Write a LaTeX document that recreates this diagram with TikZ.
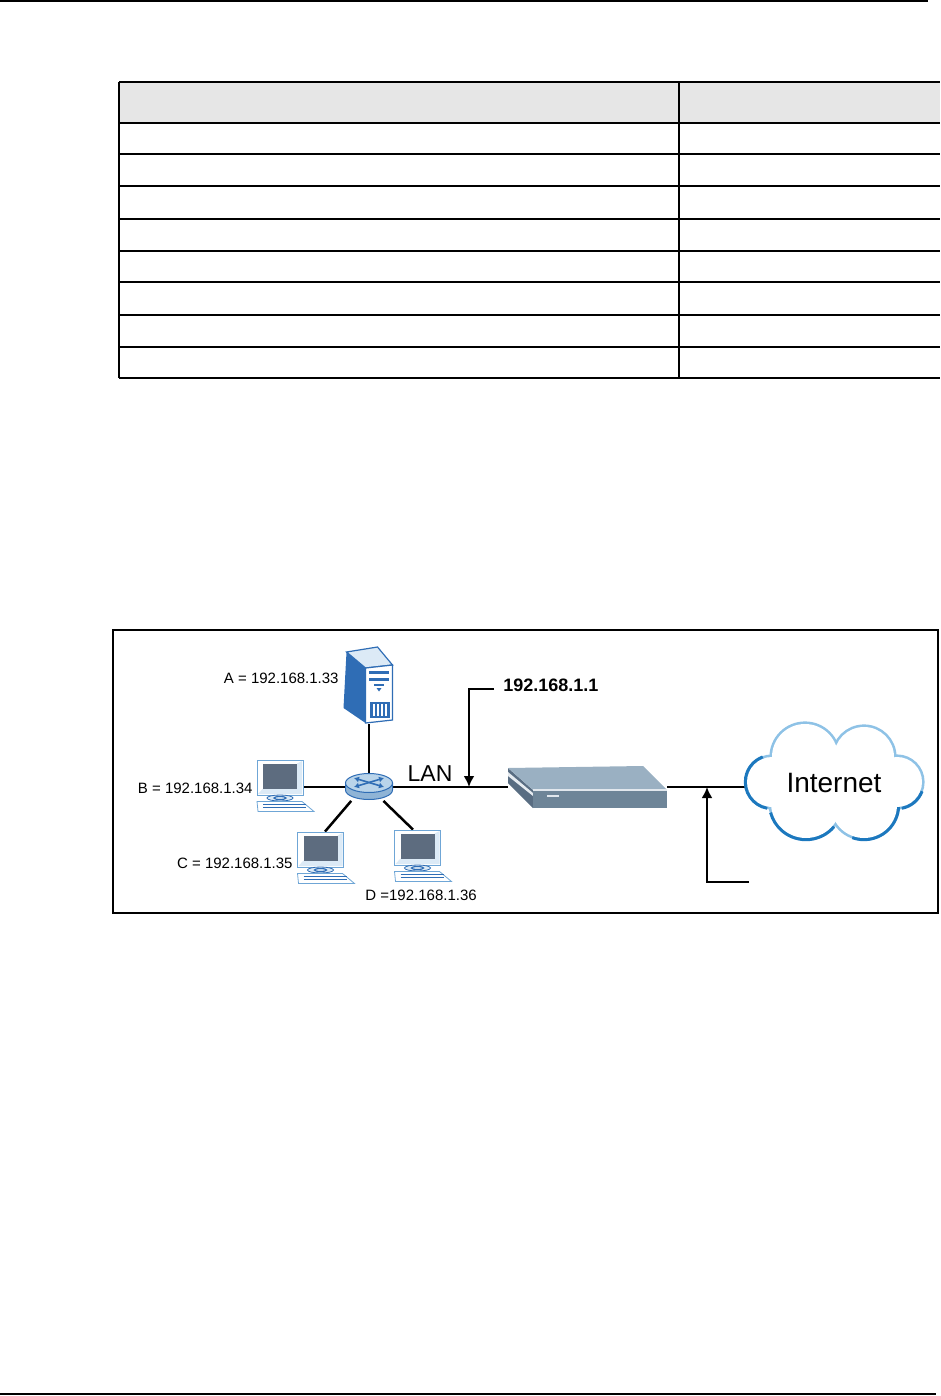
\documentclass[tikz,border=0pt]{standalone}
\usepackage{fontspec}
\setmainfont{Liberation Sans}
\usepackage{tikz}
\usetikzlibrary{arrows.meta}
\definecolor{hdrgray}{HTML}{E6E6E6}
\definecolor{srvblue}{HTML}{2F6DB5}
\definecolor{paleblue}{HTML}{DCEAF6}
\definecolor{edgeblue}{HTML}{6FA6D6}
\definecolor{screengray}{HTML}{5D6C7F}
\definecolor{hubtop}{HTML}{B9D4EA}
\definecolor{hubside}{HTML}{8FB4D6}
\definecolor{cloudlight}{HTML}{8EC2E6}
\definecolor{clouddark}{HTML}{1C78BE}
\definecolor{rtrtop}{HTML}{9AB0C2}
\definecolor{rtrfront}{HTML}{6E8598}
\definecolor{rtrside}{HTML}{596D82}
\def\devnode{\node[inner sep=0pt]}
% monitor and keyboard round the monitor centre
\newcommand{\drawpc}[1]{%
\begin{scope}[shift={(#1.center)}]
\fill[white,draw=edgeblue,line width=0.4pt] (-23,-17.5) rectangle (23,17.5);
\fill[paleblue] (17,-14) -- (22,-16.5) -- (22,16.5) -- (-22,16.5) -- (-17,11) -- (17,11) -- cycle;
\fill[screengray] (-17,-14) rectangle (17,11);
\fill[paleblue,draw=srvblue,line width=0.4pt] (0,20.5) ellipse (13 and 3);
\draw[srvblue,line width=0.6pt] (0,20.5) ellipse (6 and 1.5);
\fill[white,draw=edgeblue,line width=0.4pt] (-23,24) -- (22,24) -- (34,34) -- (-22,34) -- cycle;
\foreach \ky in {27,30} \draw[srvblue,line width=0.8pt] (-17,\ky) -- (26,\ky);
\end{scope}}

\begin{document}
\begin{tikzpicture}[x=0.5pt,y=-0.5pt,
  lnk/.style={line width=1.25pt},
  arr/.style={line width=1.25pt,-{Latex[length=5.5pt,width=5.5pt]}},
  rule/.style={line width=0.75pt},
  iplabel/.style={font=\fontsize{7.5}{9}\selectfont,inner sep=0pt},
  hubarr/.style={srvblue,line width=0.8pt,{Latex[length=2.5pt,width=3pt]}-{Latex[length=2.5pt,width=3pt]}}]
\useasboundingbox (0,0) rectangle (941,1396);
\draw[rule] (0,1) -- (928,1);
\draw[line width=1pt] (0,1394) -- (936,1394);

% table
\fill[hdrgray] (119,82) rectangle (940,123);
\foreach \ry in {82,123,154,186,219,251,282,315,347,378}
  \draw[rule] (119,\ry) -- (940,\ry);
\draw[rule] (119,82) -- (119,378);
\draw[rule] (679,82) -- (679,378);

% network figure
\draw[line width=1.2pt] (113,630) rectangle (938,913);

\devnode[minimum width=23.5pt,minimum height=38.5pt] (srv) at (369,685.5) {};
\devnode[minimum width=23.5pt,minimum height=13.5pt] (hub) at (369,787) {};
\devnode[minimum width=23pt,minimum height=17.5pt] (pcb) at (280,777.5) {};
\devnode[minimum width=22.5pt,minimum height=17.5pt] (pcc) at (320.5,849.5) {};
\devnode[minimum width=22.5pt,minimum height=17.5pt] (pcd) at (417.5,847.5) {};
\devnode[minimum width=79.5pt,minimum height=21pt] (rtr) at (587.5,787) {};
\devnode[minimum width=87pt,minimum height=56pt,font=\fontsize{14}{16}\selectfont] (inet) at (834,783) {Internet};

\node[iplabel,anchor=east] (lbla) at (339,678) {A = 192.168.1.33};
\node[iplabel,anchor=east] (lblb) at (253,788) {B = 192.168.1.34};
\node[iplabel,anchor=east] (lblc) at (293,863) {C = 192.168.1.35};
\node[iplabel,anchor=west] (lbld) at (365,895) {D =192.168.1.36};
\node[inner sep=0pt,font=\fontsize{11.5}{13}\selectfont] (lan) at (430,773.5) {LAN};
\node[inner sep=0pt,anchor=base west,font=\fontsize{9}{11}\selectfont\bfseries] (gwip) at (503,691) {192.168.1.1};

\coordinate (gwend) at (494,689);
\coordinate (lanpt) at (469,787);
\coordinate (wanend) at (749,882);
\coordinate (wanpt) at (707,787);

\draw[lnk] (srv.south) -- (hub.north);
\draw[lnk] (hub.west) -- (hub.west -| pcb.east);
\draw[lnk] (hub.218) -- (pcc.76);
\draw[lnk] (hub.316) -- (pcd.104);
\draw[lnk] (hub.east) -- (rtr.west);
\draw[lnk] (rtr.east) -- (rtr.east -| inet.west);
\draw[arr] (gwend) -| (lanpt);
\draw[arr] (wanend) -| (wanpt);

% server
\begin{scope}[shift={(srv.center)}]
\fill[srvblue] (-22.5,-33.5) -- (-3.5,-17.5) -- (-3.5,37.5) -- (-25.5,22.5) -- cycle;
\fill[paleblue,draw=srvblue,line width=0.6pt] (-22.5,-33.5) -- (8.5,-38.5) -- (23.5,-20.5) -- (-3.5,-17.5) -- cycle;
\fill[white,draw=srvblue,line width=0.6pt] (-3.5,-17.5) -- (23.5,-20.5) -- (23.5,34.5) -- (-3.5,37.5) -- cycle;
\fill[srvblue] (0,-15) rectangle (20,-11.5);
\fill[srvblue] (0,-8) rectangle (20,-4.5);
\fill[srvblue] (5,-2) rectangle (15,0);
\fill[srvblue] (7.5,2.5) -- (12.5,2.5) -- (10,6) -- cycle;
\fill[srvblue] (1,16) rectangle (21,32);
\foreach \sx in {4,8,12,16} \fill[white] (\sx,18) rectangle (\sx+1.6,30);
\end{scope}

% hub
\begin{scope}[shift={(hub.center)}]
\fill[hubside,draw=srvblue,line width=0.5pt] (-23.5,-4) -- (-23.5,3) arc[start angle=180,end angle=0,x radius=23.5,y radius=9.5] -- (23.5,-4) -- cycle;
\fill[hubtop,draw=srvblue,line width=0.5pt] (0,-4) ellipse (23.5 and 9.5);
\draw[hubarr] (-15,-9) -- (15,0);
\draw[hubarr] (-15,0) -- (15,-9);
\end{scope}

\drawpc{pcb}
\drawpc{pcc}
\drawpc{pcd}

% router
\begin{scope}[shift={(rtr.center)}]
\fill[rtrside] (-79.5,-19) -- (-54.5,3) -- (-54.5,21) -- (-79.5,-4) -- cycle;
\fill[white!75!rtrtop] (-79.5,-15) -- (-54.5,6) -- (-54.5,9) -- (-79.5,-11) -- cycle;
\fill[rtrtop] (-79.5,-19) -- (55.5,-21) -- (79.5,3) -- (-54.5,3) -- cycle;
\fill[rtrfront] (-54.5,3) rectangle (79.5,21);
\draw[white!70!rtrtop,line width=0.6pt] (-54.5,3) -- (79.5,3);
\fill[white!70!rtrtop] (-41,8) rectangle (-29,10);
\end{scope}

% cloud
\foreach \cx/\cy/\cr in {805/757/33,864/757/30,897/782/25,864/805/33,806/803/35,772/782/25}
  \draw[cloudlight,line width=2.6pt] (\cx,\cy) circle (\cr);
\foreach \cx/\cy/\cr/\sa/\ea in {772/782/25/100/250,806/803/35/40/165,864/805/33/-10/110,897/782/25/20/80}
  \draw[clouddark,line width=3.2pt] (\cx,\cy) ++(\sa:\cr) arc[start angle=\sa,end angle=\ea,radius=\cr];
\foreach \cx/\cy/\cr in {805/757/33,864/757/30,897/782/25,864/805/33,806/803/35,772/782/25}
  \fill[white] (\cx,\cy) circle (\cr);
\fill[white] (805,757) -- (864,757) -- (897,782) -- (864,805) -- (806,803) -- (772,782) -- cycle;
\node[inner sep=0pt,font=\fontsize{14}{16}\selectfont] (inettxt) at (inet.center) {Internet};
\end{tikzpicture}
\end{document}
